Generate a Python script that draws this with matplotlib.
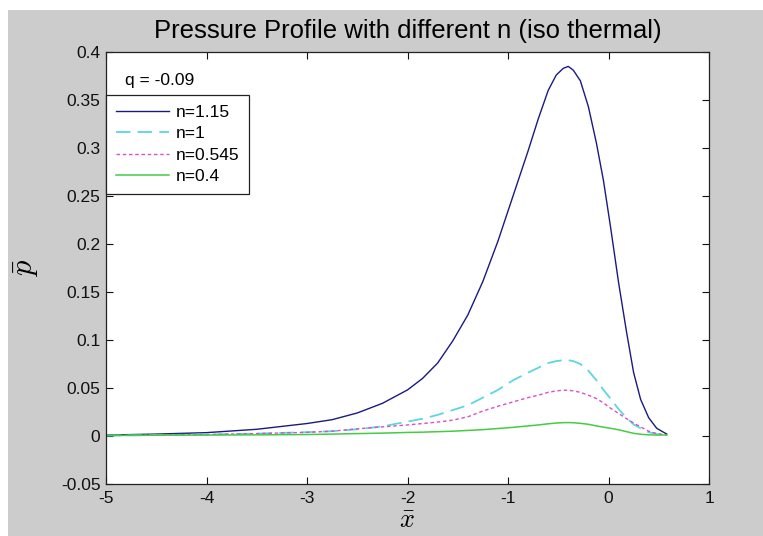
import matplotlib
matplotlib.use("Agg")
import matplotlib.pyplot as plt
from matplotlib.patches import Rectangle

# pressure profiles, p-bar against x-bar, for several power-law indices n
x_bar = [-5, -4.5, -4, -3.5, -3, -2.75, -2.5, -2.25, -2, -1.85, -1.7, -1.55,
         -1.4, -1.25, -1.1, -0.95, -0.8, -0.7, -0.6, -0.52, -0.45, -0.4,
         -0.35, -0.28, -0.2, -0.12, -0.05, 0.02, 0.1, 0.18, 0.25, 0.32, 0.4,
         0.48, 0.58]

p_n115 = [0.001, 0.002, 0.0035, 0.007, 0.013, 0.017, 0.024, 0.034, 0.048,
          0.060, 0.076, 0.099, 0.126, 0.161, 0.203, 0.250, 0.297, 0.330,
          0.360, 0.376, 0.383, 0.385, 0.381, 0.370, 0.343, 0.305, 0.266,
          0.218, 0.160, 0.108, 0.066, 0.038, 0.019, 0.008, 0.002]

p_n1 = [0.0005, 0.001, 0.0015, 0.0025, 0.004, 0.005, 0.007, 0.010, 0.015,
        0.018, 0.022, 0.027, 0.032, 0.040, 0.048, 0.058, 0.066, 0.071,
        0.076, 0.078, 0.079, 0.079, 0.078, 0.075, 0.068, 0.058, 0.048,
        0.039, 0.028, 0.019, 0.012, 0.008, 0.004, 0.002, 0.001]

p_n0545 = [0.0005, 0.001, 0.0015, 0.0025, 0.0038, 0.005, 0.0075, 0.0095,
           0.0115, 0.013, 0.0145, 0.0165, 0.020, 0.026, 0.031, 0.0355, 0.040,
           0.0425, 0.0455, 0.047, 0.0477, 0.0477, 0.047, 0.0455, 0.0425,
           0.039, 0.0345, 0.029, 0.0235, 0.018, 0.0135, 0.0095, 0.005,
           0.0025, 0.001]

p_n04 = [0.0005, 0.0008, 0.001, 0.0012, 0.0015, 0.002, 0.0025, 0.003, 0.0037,
         0.004, 0.0045, 0.005, 0.0058, 0.0066, 0.0078, 0.009, 0.0105, 0.0115,
         0.0127, 0.0135, 0.0139, 0.014, 0.0138, 0.0132, 0.0122, 0.0105,
         0.0092, 0.008, 0.0065, 0.0045, 0.0028, 0.0018, 0.0012, 0.001, 0.001]

labels = ['n=1.15', 'n=1', 'n=0.545', 'n=0.4']

plt.rcParams['font.family'] = ['Liberation Sans', 'DejaVu Sans']
plt.rcParams['mathtext.fontset'] = 'cm'

fig = plt.figure(figsize=(7.63, 5.36), dpi=100, facecolor='white')
fig.patches.append(Rectangle((8 / 763, 0), 1, 526 / 536,
                             transform=fig.transFigure, facecolor='#cccccc',
                             edgecolor='none', zorder=-10))
ax = fig.add_axes([106 / 763, 52 / 536, 603 / 763, 432 / 536])
ax.set_facecolor('white')

ax.plot(x_bar, p_n115, color='#1a1a80', lw=1.0, label=labels[0])
ax.plot(x_bar, p_n1, color='#5cd6e0', lw=1.3, dashes=(8, 4), label=labels[1])
ax.plot(x_bar, p_n0545, color='#d94fc8', lw=1.0, dashes=(2.5, 2),
        label=labels[2])
ax.plot(x_bar, p_n04, color='#45cc45', lw=1.1, label=labels[3])

ax.set_xlim(-5, 1)
ax.set_ylim(-0.05, 0.4)
ax.set_xticks([-5, -4, -3, -2, -1, 0, 1])
ax.set_xticklabels(['-5', '-4', '-3', '-2', '-1', '0', '1'])
ax.set_yticks([-0.05, 0, 0.05, 0.1, 0.15, 0.2, 0.25, 0.3, 0.35, 0.4])
ax.set_yticklabels(['-0.05', '0', '0.05', '0.1', '0.15', '0.2', '0.25',
                    '0.3', '0.35', '0.4'])
ax.tick_params(direction='in', length=5, width=0.8, top=True, right=True,
               labelsize=12.5, colors='#111111')
ax.tick_params(axis='x', pad=5)
ax.tick_params(axis='y', pad=4)
for s in ax.spines.values():
    s.set_color('#222222')
    s.set_linewidth(0.9)

ax.set_title('Pressure Profile with different n (iso thermal)', fontsize=18.5,
             pad=10)
ax.set_xlabel(r'$\bar{x}$', fontsize=19, labelpad=2)
ax.set_ylabel(r'$\bar{p}$', fontsize=22, labelpad=14)

ax.text(0.032, 0.935, 'q = -0.09', transform=ax.transAxes, fontsize=12.5,
        va='center', ha='left')

leg = ax.legend(loc='upper left', bbox_to_anchor=(0, 0.9), borderaxespad=0,
                fontsize=12.5, handlelength=3.1, labelspacing=0.36,
                handletextpad=0.35, borderpad=0.55, fancybox=False,
                framealpha=1, edgecolor='#222222')
leg.get_frame().set_linewidth(0.9)

fig.savefig('out.png', dpi=100, facecolor=fig.get_facecolor())
